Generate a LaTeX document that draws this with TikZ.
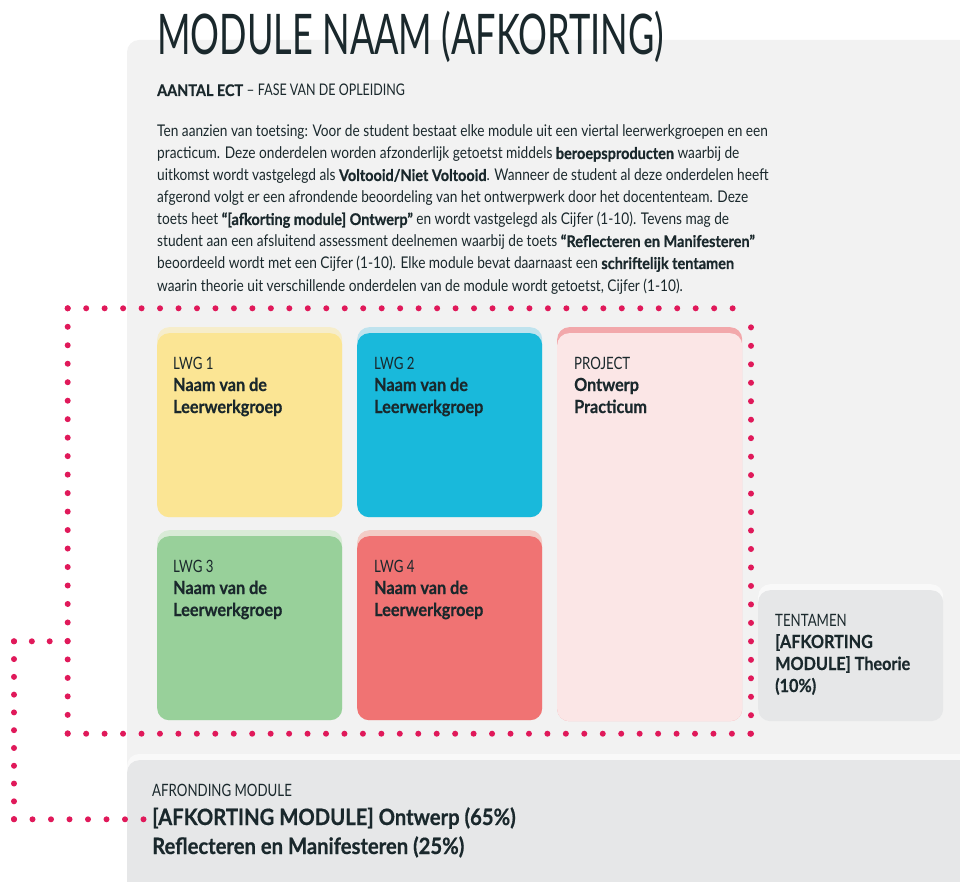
\documentclass[tikz,border=0pt]{standalone}
\usepackage{fontspec}
\setmainfont{Lato}[FakeStretch=0.85, BoldFeatures={FakeStretch=0.9, FakeBold=0.6}]
\newfontfamily\titlefont{Lato}[FakeStretch=0.645]
\newfontfamily\capsfont{Lato}[FakeStretch=0.78]
\usetikzlibrary{calc}
\definecolor{ink}{HTML}{1A282C}
\definecolor{panel}{HTML}{F2F2F2}
\definecolor{greybox}{HTML}{E6E7E8}
\definecolor{greyshade}{HTML}{F9F9F9}
\definecolor{dotred}{HTML}{E0195A}
\definecolor{yel}{HTML}{FBE594}
\definecolor{yelS}{HTML}{F6EDCB}
\definecolor{cya}{HTML}{19B9DB}
\definecolor{cyaS}{HTML}{BFE3EE}
\definecolor{grn}{HTML}{98D09A}
\definecolor{grnS}{HTML}{D9EBD7}
\definecolor{red}{HTML}{F07373}
\definecolor{redS}{HTML}{F3CCC6}
\definecolor{pnk}{HTML}{FBE6E6}
\definecolor{pnkS}{HTML}{F2A8AB}
\tikzset{
  box/.style={rounded corners=12pt, inner sep=0pt, anchor=north west, minimum width=185pt},
  txt/.style={inner sep=0pt, anchor=base west, text=ink, font=\fontsize{17}{22}\selectfont\capsfont},
  btxt/.style={txt, font=\fontsize{18}{22}\selectfont\bfseries},
  ptxt/.style={txt, font=\fontsize{16.1}{22}\selectfont},
  dots/.style={dotred, line width=6pt, line cap=round, dash pattern=on 0pt off #1},
}
\begin{document}
\begin{tikzpicture}[x=1pt,y=-1pt]
\useasboundingbox (0,0) rectangle (960,882);
\clip (0,0) rectangle (960,882);
% main panel
\fill[panel, rounded corners=12pt] (127,40) rectangle (990,920);
% title
\node[txt, font=\fontsize{56}{60}\selectfont\titlefont] (title) at (157,55) {MODULE NAAM (AFKORTING)};
\node[txt, font=\fontsize{16}{20}\selectfont] (sub) at (157,96) {\textbf{AANTAL ECT} -- {\capsfont FASE VAN DE OPLEIDING}};
% paragraph
\node[ptxt] (p1) at (157,137) {Ten aanzien van toetsing: Voor de student bestaat elke module uit een viertal leerwerkgroepen en een};
\node[ptxt] (p2) at (157,159) {practicum. Deze onderdelen worden afzonderlijk getoetst middels \textbf{beroepsproducten} waarbij de};
\node[ptxt] (p3) at (157,181) {uitkomst wordt vastgelegd als \textbf{Voltooid/Niet Voltooid}. Wanneer de student al deze onderdelen heeft};
\node[ptxt] (p4) at (157,203) {afgerond volgt er een afrondende beoordeling van het ontwerpwerk door het docententeam. Deze};
\node[ptxt] (p5) at (157,225) {toets heet \textbf{“[afkorting module] Ontwerp”} en wordt vastgelegd als Cijfer (1-10). Tevens mag de};
\node[ptxt] (p6) at (157,247) {student aan een afsluitend assessment deelnemen waarbij de toets \textbf{“Reflecteren en Manifesteren”}};
\node[ptxt] (p7) at (157,269) {beoordeeld wordt met een Cijfer (1-10). Elke module bevat daarnaast een \textbf{schriftelijk tentamen}};
\node[ptxt] (p8) at (157,291) {waarin theorie uit verschillende onderdelen van de module wordt getoetst, Cijfer (1-10).};
% boxes: shadows
\node[box, fill=yelS, minimum height=190pt] (lwg1s) at (157,327) {};
\node[box, fill=cyaS, minimum height=190pt] (lwg2s) at (357,327) {};
\node[box, fill=pnkS, minimum height=394pt] (projs) at (557,327) {};
\node[box, fill=grnS, minimum height=190pt] (lwg3s) at (157,530) {};
\node[box, fill=redS, minimum height=190pt] (lwg4s) at (357,530) {};
\node[box, fill=greyshade, minimum height=137pt] (tents) at (758,584) {};
% boxes
\node[box, fill=yel, minimum height=184pt] (lwg1) at (157,333) {};
\node[box, fill=cya, minimum height=184pt] (lwg2) at (357,333) {};
\node[box, fill=pnk, minimum height=388pt] (proj) at (557,333) {};
\node[box, fill=grn, minimum height=184pt] (lwg3) at (157,536) {};
\node[box, fill=red, minimum height=184pt] (lwg4) at (357,536) {};
\node[box, fill=greybox, minimum height=131pt] (tent) at (758,590) {};
% bottom panel
\fill[greyshade, rounded corners=12pt] (127,754) rectangle (990,920);
\node[fill=greybox, rounded corners=12pt, inner sep=0pt, anchor=north west, minimum width=860pt, minimum height=160pt] (afr) at (127,760) {};
% box texts
\node[txt] (l1a) at (173,369) {LWG 1};
\node[btxt] (l1b) at (173,391) {Naam van de};
\node[btxt] (l1c) at (173,413) {Leerwerkgroep};
\node[txt] (l2a) at (374,369) {LWG 2};
\node[btxt] (l2b) at (374,391) {Naam van de};
\node[btxt] (l2c) at (374,413) {Leerwerkgroep};
\node[txt] (pra) at (574,369) {PROJECT};
\node[btxt] (prb) at (574,391) {Ontwerp};
\node[btxt] (prc) at (574,413) {Practicum};
\node[txt] (l3a) at (173,572) {LWG 3};
\node[btxt] (l3b) at (173,594) {Naam van de};
\node[btxt] (l3c) at (173,616) {Leerwerkgroep};
\node[txt] (l4a) at (374,572) {LWG 4};
\node[btxt] (l4b) at (374,594) {Naam van de};
\node[btxt] (l4c) at (374,616) {Leerwerkgroep};
\node[txt] (tea) at (775,626) {TENTAMEN};
\node[btxt] (teb) at (775,648) {[AFKORTING};
\node[btxt] (tec) at (775,670) {MODULE] Theorie};
\node[btxt] (ted) at (775,692) {(10\%)};
\node[txt] (afa) at (152,796) {AFRONDING MODULE};
\node[txt, font=\fontsize{22.5}{29}\selectfont\bfseries] (afb) at (152,825) {[AFKORTING MODULE] Ontwerp (65\%)};
\node[txt, font=\fontsize{22.5}{29}\selectfont\bfseries] (afc) at (152,854) {Reflecteren en Manifesteren (25\%)};
% dotted group outline and connector
\coordinate (g1) at (733,308.3);
\coordinate (g2) at (67.7,308.3);
\coordinate (g3) at (67.7,733.7);
\coordinate (g4) at (751,733.7);
\coordinate (g5) at (751,327);
\coordinate (c1) at (67.7,641.3);
\coordinate (c2) at (14,641.3);
\coordinate (c3) at (14,819.3);
\coordinate (c4) at (144,819.3);
\draw[dots=18.47pt] (g2) -- (g1);
\draw[dots=18.48pt] (g2) -- (g3);
\draw[dots=18.45pt] (g3) -- (g4);
\draw[dots=18.47pt] (g4) -- (g5);
\draw[dots=17.85pt] (c2) -- (c1);
\draw[dots=17.78pt] (c2) -- (c3);
\draw[dots=18.5pt] (c3) -- (c4);
\end{tikzpicture}
\end{document}
